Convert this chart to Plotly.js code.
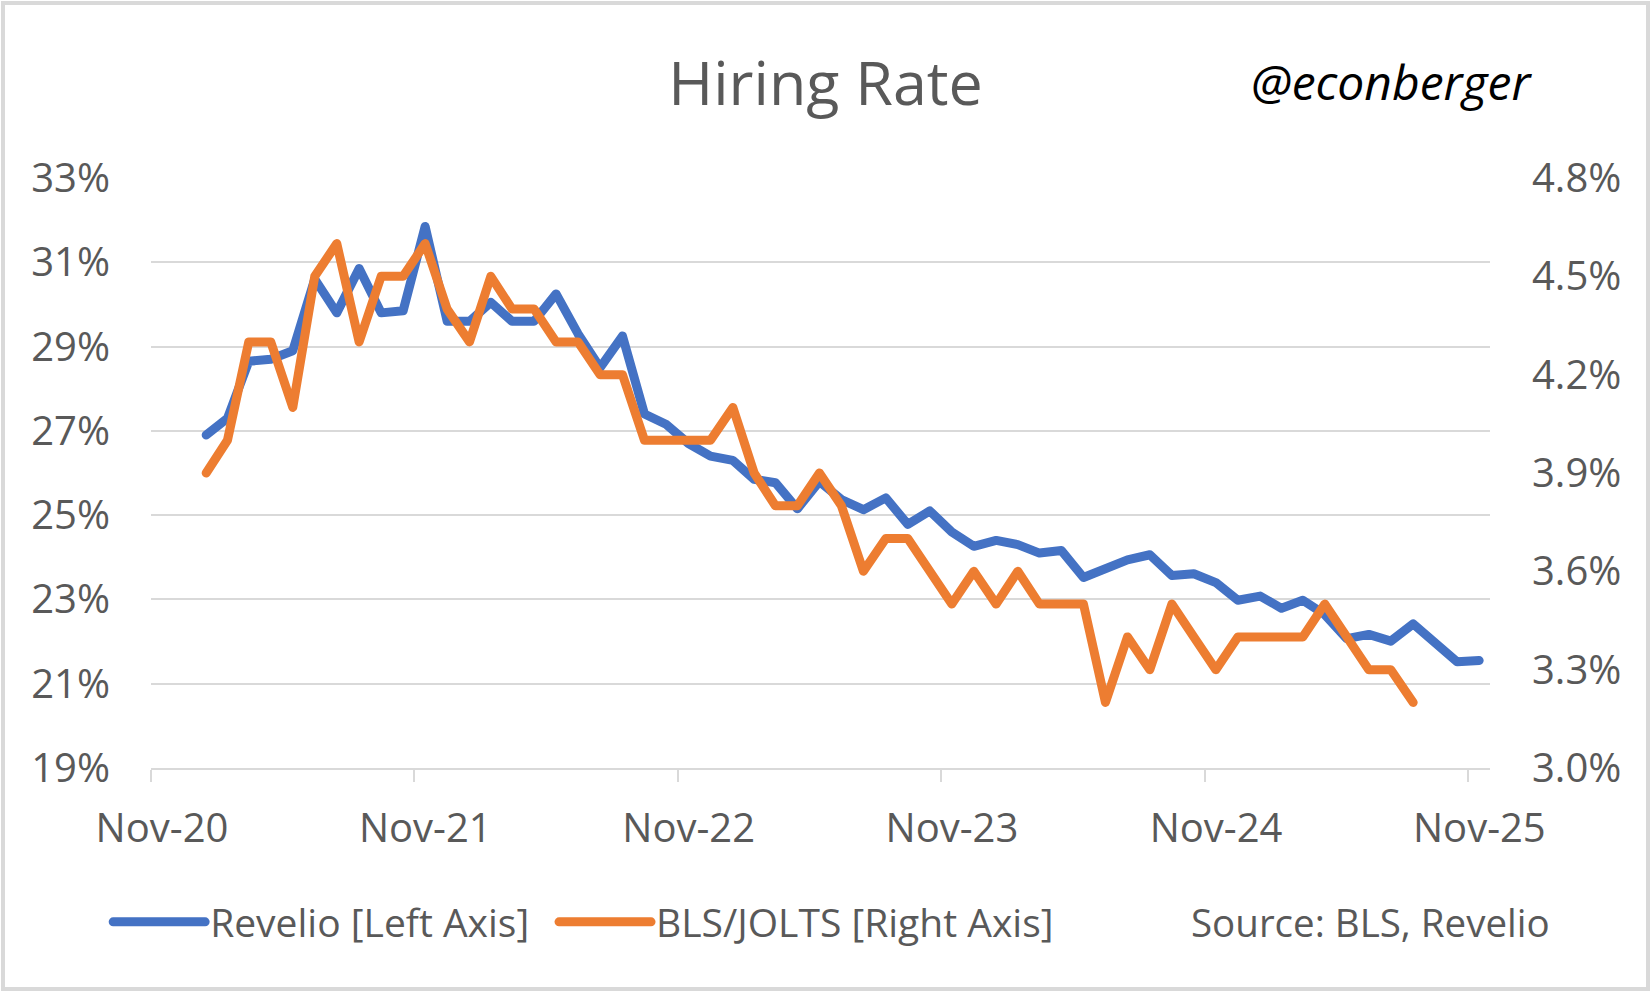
<!DOCTYPE html>
<html>
<head>
<meta charset="utf-8">
<script src="https://cdn.plot.ly/plotly-3.0.1.min.js"></script>
<style>
  html, body { margin: 0; padding: 0; background: #ffffff; }
  #wrap { position: relative; width: 1651px; height: 992px; }
  #chart { width: 1651px; height: 992px; }
  #frame { position: absolute; left: 1px; top: 1px; width: 1649px; height: 990px; box-sizing: border-box; border: 4px solid #d9d9d9; pointer-events: none; }
  .js-line { stroke-linecap: round; stroke-linejoin: round; }
</style>
</head>
<body>
<div id="wrap">
  <div id="chart"></div>
  <div id="frame"></div>
</div>
<script>
// Months (monthly data, Jan 2021 - Nov 2025)
const months = [
  '2021-01','2021-02','2021-03','2021-04','2021-05','2021-06','2021-07','2021-08','2021-09','2021-10','2021-11','2021-12',
  '2022-01','2022-02','2022-03','2022-04','2022-05','2022-06','2022-07','2022-08','2022-09','2022-10','2022-11','2022-12',
  '2023-01','2023-02','2023-03','2023-04','2023-05','2023-06','2023-07','2023-08','2023-09','2023-10','2023-11','2023-12',
  '2024-01','2024-02','2024-03','2024-04','2024-05','2024-06','2024-07','2024-08','2024-09','2024-10','2024-11','2024-12',
  '2025-01','2025-02','2025-03','2025-04','2025-05','2025-06','2025-07','2025-08','2025-09','2025-10','2025-11'
];

// Revelio hiring rate (%), left axis
const revelio = [
  26.9, 27.3, 28.65, 28.7, 28.9, 30.6, 29.8, 30.85, 29.8, 29.85, 31.85, 29.6,
  29.6, 30.05, 29.6, 29.6, 30.25, 29.3, 28.5, 29.25, 27.4, 27.15, 26.7, 26.4,
  26.3, 25.85, 25.77, 25.15, 25.8, 25.37, 25.13, 25.41, 24.78, 25.1, 24.6, 24.26,
  24.4, 24.3, 24.1, 24.16, 23.52, 23.75, 23.94, 24.06, 23.57, 23.61, 23.4, 22.98,
  23.08, 22.79, 22.98, 22.64, 22.07, 22.17, 22.01, 22.42, 21.97, 21.52, 21.55
];

// BLS/JOLTS hires rate (%), right axis (through Aug 2025)
const jolts = [
  3.9, 4.0, 4.3, 4.3, 4.1, 4.5, 4.6, 4.3, 4.5, 4.5, 4.6, 4.4,
  4.3, 4.5, 4.4, 4.4, 4.3, 4.3, 4.2, 4.2, 4.0, 4.0, 4.0, 4.0,
  4.1, 3.9, 3.8, 3.8, 3.9, 3.8, 3.6, 3.7, 3.7, 3.6, 3.5, 3.6,
  3.5, 3.6, 3.5, 3.5, 3.5, 3.2, 3.4, 3.3, 3.5, 3.4, 3.3, 3.4,
  3.4, 3.4, 3.4, 3.5, 3.4, 3.3, 3.3, 3.2
];

const xTickVals = ['2020-11-01','2021-11-01','2022-11-01','2023-11-01','2024-11-01','2025-11-01'];
const xTickText = ['Nov-20','Nov-21','Nov-22','Nov-23','Nov-24','Nov-25'];
const leftTickVals = [19, 21, 23, 25, 27, 29, 31, 33];
const rightTickVals = [3.0, 3.3, 3.6, 3.9, 4.2, 4.5, 4.8];

const FONT = 'Open Sans, Noto Sans, DejaVu Sans, sans-serif';
const GREY = '#595959';
const GRID = '#d9d9d9';

const traces = [
  {
    type: 'scatter', mode: 'lines', name: 'Revelio [Left Axis]',
    x: months.slice(0, revelio.length), y: revelio,
    xperiod: 'M1', xperiodalignment: 'middle',
    line: { color: '#4472C4', width: 9 },
    yaxis: 'y', legend: 'legend', hoverinfo: 'skip'
  },
  {
    type: 'scatter', mode: 'lines', name: 'BLS/JOLTS [Right Axis]',
    x: months.slice(0, jolts.length), y: jolts,
    xperiod: 'M1', xperiodalignment: 'middle',
    line: { color: '#ED7D31', width: 9 },
    yaxis: 'y2', legend: 'legend2', hoverinfo: 'skip'
  }
];

const legendBase = {
  orientation: 'h',
  xanchor: 'left',
  y: -0.261, yanchor: 'middle',
  font: { family: FONT, size: 39, color: GREY },
  itemwidth: 92,
  bgcolor: 'rgba(0,0,0,0)', borderwidth: 0
};

const layout = {
  width: 1651, height: 992,
  paper_bgcolor: '#ffffff', plot_bgcolor: '#ffffff',
  margin: { l: 151, r: 161, t: 178, b: 224, autoexpand: false },
  font: { family: FONT, color: GREY, size: 40 },
  title: {
    text: 'Hiring Rate',
    font: { family: FONT, size: 61, color: GREY },
    xref: 'container', x: 0.5, xanchor: 'center',
    yref: 'container', y: 1 - 84 / 992, yanchor: 'middle'
  },
  showlegend: true,
  legend: Object.assign({}, legendBase, { x: -0.032 }),
  legend2: Object.assign({}, legendBase, { x: 0.301 }),
  xaxis: {
    type: 'date',
    range: ['2020-11-01', '2025-12-01'],
    tickmode: 'array', tickvals: xTickVals, ticktext: xTickText,
    ticks: 'outside', ticklen: 12, tickwidth: 2, tickcolor: GRID,
    ticklabelshift: 11, ticklabelstandoff: 12,
    tickfont: { family: FONT, size: 40, color: GREY },
    showline: true, linecolor: GRID, linewidth: 2,
    showgrid: false, zeroline: false, fixedrange: true
  },
  yaxis: {
    range: [19, 33],
    tickmode: 'array', tickvals: leftTickVals,
    ticktext: leftTickVals.map(v => v + '%'),
    ticks: '', ticklabelstandoff: 40,
    tickfont: { family: FONT, size: 40, color: GREY },
    showgrid: true, gridcolor: GRID, gridwidth: 2,
    showline: false, zeroline: false, fixedrange: true
  },
  yaxis2: {
    range: [3.0, 4.8],
    overlaying: 'y', side: 'right',
    tickmode: 'array', tickvals: rightTickVals,
    ticktext: rightTickVals.map(v => v.toFixed(1) + '%'),
    ticks: '', ticklabelstandoff: 41,
    tickfont: { family: FONT, size: 40, color: GREY },
    showgrid: false, showline: false, zeroline: false, fixedrange: true
  },
  annotations: [
    {
      text: '@econberger', showarrow: false,
      xref: 'paper', yref: 'paper',
      x: 0.9268, xanchor: 'center', y: 1.164, yanchor: 'middle',
      font: { family: FONT, size: 48, color: '#000000', style: 'italic' }
    },
    {
      text: 'Source: BLS, Revelio', showarrow: false,
      xref: 'paper', yref: 'paper',
      x: 0.7755, xanchor: 'left', y: -0.261, yanchor: 'middle',
      font: { family: FONT, size: 38.5, color: GREY }
    }
  ]
};

Plotly.newPlot('chart', traces, layout, { staticPlot: true, displayModeBar: false });
</script>
</body>
</html>
